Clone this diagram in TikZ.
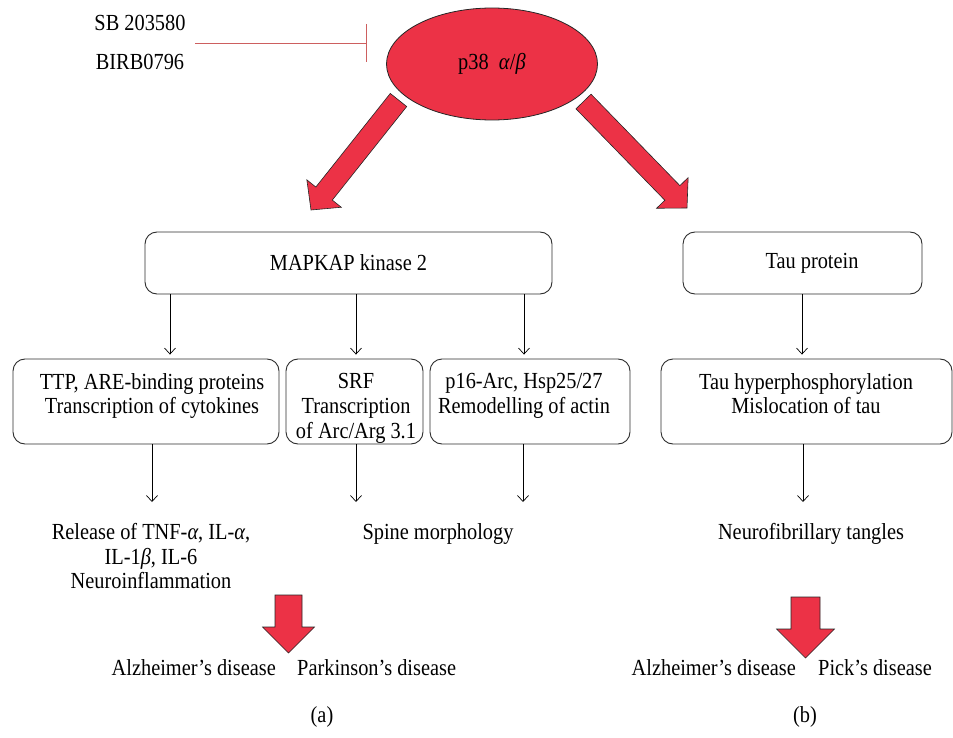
\documentclass[tikz,border=0pt]{standalone}
\usepackage{fontspec}
\setmainfont{Liberation Serif}[FakeStretch=0.885]
\usetikzlibrary{calc,arrows.meta,shapes.geometric}
\definecolor{pred}{RGB}{236,50,70}
\definecolor{inhib}{RGB}{205,95,95}
\definecolor{edgegray}{RGB}{45,45,45}
% fat red arrow: #1 tail, #2 tip, #3 shaft half width, #4 head half width, #5 head length
\newcommand\fatredarrow[5]{%
  \path ($(#2)!#5!(#1)$) coordinate (fa-h);
  \draw[fatred] ($(#1)!#3!90:(#2)$) -- ($(fa-h)!#3!90:(#2)$) -- ($(fa-h)!#4!90:(#2)$)
    -- (#2) -- ($(fa-h)!#4!-90:(#2)$) -- ($(fa-h)!#3!-90:(#2)$) -- ($(#1)!#3!-90:(#2)$) -- cycle;}
\begin{document}
\begin{tikzpicture}[x=1pt,y=-1pt,
  every node/.style={font=\fontsize{23}{24.8}\selectfont, inner sep=0pt, align=center},
  box/.style={draw=edgegray, line width=0.9pt, rounded corners=12pt, fill=white},
  arr/.style={draw=black, line width=0.7pt, -{Straight Barb[length=6pt,width=11pt]}},
  fatred/.style={fill=pred, draw=black!85, line width=0.6pt, line join=miter},
  inh/.style={draw=inhib, line width=0.9pt, -{Bar[width=38pt,line width=0.9pt]}}
]
\useasboundingbox (0,0) rectangle (953,738);

% inhibitors
\node[anchor=base] (sb) at (140,30.5) {SB 203580};
\node[anchor=base] (birb) at (140,69.5) {BIRB0796};
\coordinate (inh-s) at (195,43);
\coordinate (inh-e) at (367,43);
\draw[inh] (inh-s) -- (inh-e);

% p38
\node[ellipse, draw=black!85, fill=pred, line width=0.8pt, minimum width=211pt, minimum height=112pt] (p38) at (492,64) {p38\ \ \textit{α}/\textit{β}};

% fat arrows from p38
\coordinate (la-s) at (398.5,100);
\coordinate (la-t) at (311,210);
\fatredarrow{la-s}{la-t}{10.5pt}{22pt}{21pt}
\coordinate (ra-s) at (583.5,101.5);
\coordinate (ra-t) at (687,208);
\fatredarrow{ra-s}{ra-t}{10.5pt}{22pt}{21pt}

% first row boxes
\node[box, minimum width=407pt, minimum height=62pt] (mk2) at (348.5,263) {MAPKAP kinase 2};
\node[box, minimum width=239pt, minimum height=62pt] (tau) at (802.5,263) {};
\node (tau-t) at (812,263) {Tau protein};

% second row boxes
\node[box, minimum width=266pt, minimum height=85pt] (ttp) at (146,401.5) {};
\node[box, minimum width=137pt, minimum height=85pt] (srf) at (354.5,401.5) {};
\node[box, minimum width=200pt, minimum height=85pt] (p16) at (530,401.5) {};
\node[box, minimum width=291pt, minimum height=85pt] (tauh) at (806.5,401.5) {};
\node[anchor=north] (ttp-t) at (152,373) {TTP, ARE-binding proteins\\Transcription of cytokines};
\node[anchor=north] (srf-t) at (356,373) {SRF\\Transcription\\of Arc/Arg 3.1};
\node[anchor=north] (p16-t) at (524,373) {p16-Arc, Hsp25/27\\Remodelling of actin};
\node[anchor=north] (tauh-t) at (806,373) {Tau hyperphosphorylation\\Mislocation of tau};

% arrows row 1 -> row 2
\draw[arr] ([xshift=-178.5pt]mk2.south) -- ([xshift=24pt,yshift=4pt]ttp.north);
\draw[arr] ([xshift=7.5pt]mk2.south) -- ([xshift=1.5pt,yshift=4pt]srf.north);
\draw[arr] ([xshift=175.5pt]mk2.south) -- ([xshift=-6pt,yshift=4pt]p16.north);
\draw[arr] ([xshift=-0.5pt]tau.south) -- ([xshift=-4.5pt,yshift=4pt]tauh.north);

% outcome texts
\node[anchor=north] (rel) at (151,523) {Release of TNF-\textit{α}, IL-\textit{α},\\IL-1\textit{β}, IL-6\\Neuroinflammation};
\node[anchor=north] (spine) at (438,523) {Spine morphology};
\node[anchor=north] (nft) at (811,523) {Neurofibrillary tangles};

% arrows row 2 -> outcomes
\draw[arr] ([xshift=6pt]ttp.south) -- ([xshift=1pt,yshift=21pt]rel.north);
\draw[arr] ([xshift=1.5pt]srf.south) -- ([xshift=-82pt,yshift=21pt]spine.north);
\draw[arr] ([xshift=-7pt]p16.south) -- ([xshift=85pt,yshift=21pt]spine.north);
\draw[arr] ([xshift=-3.5pt]tauh.south) -- ([xshift=-8pt,yshift=21pt]nft.north);

% fat down arrows
\coordinate (ld-s) at (288.5,595);
\coordinate (ld-t) at (288.5,653);
\fatredarrow{ld-s}{ld-t}{13.5pt}{26pt}{26pt}
\coordinate (rd-s) at (805.5,597);
\coordinate (rd-t) at (805.5,658);
\fatredarrow{rd-s}{rd-t}{14.5pt}{29pt}{29pt}

% diseases
\node[anchor=base east] (ad1) at (276,675) {Alzheimer’s disease};
\node[anchor=base west] (pd) at (297,675) {Parkinson’s disease};
\node[anchor=base east] (ad2) at (796,675) {Alzheimer’s disease};
\node[anchor=base west] (pick) at (818,675) {Pick’s disease};

% panel labels
\node (lab-a) at (322,717) {(a)};
\node (lab-b) at (805,717) {(b)};
\end{tikzpicture}
\end{document}
